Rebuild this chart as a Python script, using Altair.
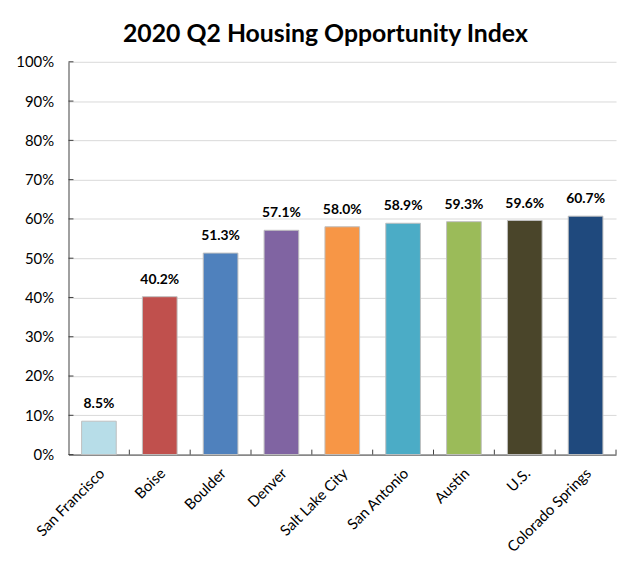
import altair as alt
import pandas as pd

cities = ["San Francisco", "Boise", "Boulder", "Denver", "Salt Lake City",
          "San Antonio", "Austin", "U.S.", "Colorado Springs"]
values = [8.5, 40.2, 51.3, 57.1, 58.0, 58.9, 59.3, 59.6, 60.7]
colors = ["#b7dde8", "#c0504d", "#4f81bd", "#8064a2", "#f79646",
          "#4bacc6", "#9bbb59", "#4a452a", "#1f497d"]
y_ticks = [0, 0.1, 0.2, 0.3, 0.4, 0.5, 0.6, 0.7, 0.8, 0.9, 1.0]
boundaries = [1, 2, 3, 4, 5, 6, 7, 8, 9]

df = pd.DataFrame({"city": cities, "share": [v / 100 for v in values]})
yt = pd.DataFrame({"v": y_ticks})
bd = pd.DataFrame({"b": boundaries})

W, H = 552, 396
FONT = "Lato"
AXC = "#404040"

xband = alt.Scale(paddingInner=0.43, paddingOuter=0.215)
yscale = alt.Scale(domain=[0, 1])
yaxis = alt.Axis(values=y_ticks, format=".0%", grid=True, gridColor="#d9d9d9",
                 ticks=False, tickSize=0, labelPadding=15, domainColor=AXC,
                 labelFont=FONT, labelFontSize=15, labelColor="#000")

bars = alt.Chart(df).mark_bar(stroke="#bfbfbf", strokeWidth=1).encode(
    x=alt.X("city:N", sort=cities, title=None, scale=xband,
            axis=alt.Axis(labelAngle=315, labelAlign="right", labelBaseline="middle",
                          labelPadding=16, labelOffset=3, ticks=False, labelFont=FONT,
                          labelFontSize=15, labelColor="#000", domainColor=AXC, grid=False)),
    y=alt.Y("share:Q", title=None, scale=yscale, axis=yaxis),
    color=alt.Color("city:N", scale=alt.Scale(domain=cities, range=colors), legend=None),
)

text = alt.Chart(df).mark_text(dy=-10, baseline="bottom", fontWeight="bold",
                               fontSize=14, font=FONT, color="#000").encode(
    x=alt.X("city:N", sort=cities, scale=xband),
    y=alt.Y("share:Q", title=None, scale=yscale, axis=yaxis),
    text=alt.Text("share:Q", format=".1%"),
)

inner = alt.layer(bars, text)

ytick_rules = alt.Chart(yt).mark_rule(color=AXC).encode(
    y=alt.Y("v:Q", title=None, scale=yscale, axis=yaxis),
    x=alt.value(0), x2=alt.value(5),
)

xtick_rules = alt.Chart(bd).mark_rule(color=AXC).encode(
    x=alt.X("b:Q", scale=alt.Scale(domain=[0, 9]), axis=None),
    y=alt.value(H - 5), y2=alt.value(H),
)

chart = alt.layer(inner, ytick_rules, xtick_rules).resolve_scale(x="independent").properties(
    width=W, height=H,
    title=alt.TitleParams("2020 Q2 Housing Opportunity Index", fontSize=25, font=FONT,
                          fontWeight="bold", color="#000", anchor="middle", dx=-17, offset=8),
    autosize=alt.AutoSizeParams(type="none"),
    padding={"left": 61, "top": 52, "right": 2, "bottom": 100},
    background="white",
).configure_view(stroke=None)

chart.save("out.html", embed_options={"renderer": "svg", "actions": False})
